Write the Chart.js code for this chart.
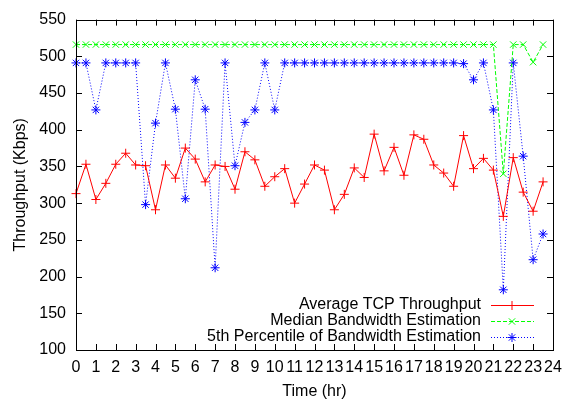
<!DOCTYPE html>
<html>
<head>
<meta charset="utf-8">
<script src="https://cdn.jsdelivr.net/npm/chart.js@4/dist/chart.umd.min.js"></script>
<style>
  html, body { margin: 0; padding: 0; background: #fff; }
  #wrap { width: 570px; height: 401px; }
</style>
</head>
<body>
<div id="wrap"><canvas id="bw"></canvas></div>
<script>
// time of day (hr), one sample every half hour
var hours = [0, 0.5, 1, 1.5, 2, 2.5, 3, 3.5, 4, 4.5, 5, 5.5, 6, 6.5, 7, 7.5,
  8, 8.5, 9, 9.5, 10, 10.5, 11, 11.5, 12, 12.5, 13, 13.5, 14, 14.5, 15, 15.5,
  16, 16.5, 17, 17.5, 18, 18.5, 19, 19.5, 20, 20.5, 21, 21.5, 22, 22.5, 23, 23.5];

// Average TCP Throughput
var tcpAvg = [313, 353, 305, 327, 353, 368, 352, 351, 291, 352, 334, 375, 360, 329, 352, 350,
  319, 370, 359, 323, 336, 347, 300, 326, 352, 345, 291, 312, 348, 335, 394, 344,
  376, 338, 393, 387, 352, 341, 323, 392, 347, 361, 345, 282, 362, 315, 289, 329];

// Median Bandwidth Estimation
var bwMedian = [516, 516, 516, 516, 516, 516, 516, 516, 516, 516, 516, 516, 516, 516, 516, 516,
  516, 516, 516, 516, 516, 516, 516, 516, 516, 516, 516, 516, 516, 516, 516, 516,
  516, 516, 516, 516, 516, 516, 516, 516, 516, 516, 516, 340, 516, 516, 492, 516];

// 5th Percentile of Bandwidth Estimation
var bw5th = [491, 491, 427, 491, 491, 491, 491, 298, 409, 491, 428, 306, 468, 428, 212, 491,
  351, 410, 427, 491, 427, 491, 491, 491, 491, 491, 491, 491, 491, 491, 491, 491,
  491, 491, 491, 491, 491, 491, 491, 490, 468, 491, 427, 182, 491, 364, 223, 258];

var xTicks = [0, 24];
var yTicks = [100, 550, 50];

function pts(vals) {
  return hours.map(function (h, i) { return {x: h, y: vals[i]}; });
}

var FONT = '"Liberation Sans", Arial, sans-serif';

// gnuplot style frame, inward ticks, legend in the lower right
var framePlugin = {
  id: 'frame',
  afterDraw: function (chart) {
    var ctx = chart.ctx, a = chart.chartArea;
    var xs = chart.scales.x, ys = chart.scales.y;
    ctx.save();
    ctx.strokeStyle = '#000';
    ctx.lineWidth = 1;
    ctx.beginPath();
    for (var h = xTicks[0]; h <= xTicks[1]; h++) {
      var px = Math.round(xs.getPixelForValue(h)) + 0.5;
      ctx.moveTo(px, a.bottom); ctx.lineTo(px, a.bottom - 6);
      ctx.moveTo(px, a.top); ctx.lineTo(px, a.top + 6);
    }
    for (var v = yTicks[0]; v <= yTicks[1]; v += yTicks[2]) {
      var py = Math.round(ys.getPixelForValue(v)) + 0.5;
      ctx.moveTo(a.left, py); ctx.lineTo(a.left + 6, py);
      ctx.moveTo(a.right, py); ctx.lineTo(a.right - 6, py);
    }
    ctx.stroke();
    ctx.strokeRect(Math.round(a.left) + 0.5, Math.round(a.top) + 0.5,
      Math.round(a.right - a.left), Math.round(a.bottom - a.top));

    // legend
    ctx.font = '16px ' + FONT;
    ctx.fillStyle = '#000';
    ctx.textAlign = 'right';
    ctx.textBaseline = 'middle';
    var rowY = a.bottom - 45;
    chart.data.datasets.forEach(function (ds, i) {
      var y = rowY + i * 16;
      ctx.fillText(ds.label, 481, y);
      ctx.save();
      ctx.strokeStyle = ds.borderColor;
      ctx.lineWidth = 1;
      ctx.setLineDash(ds.borderDash || []);
      ctx.beginPath();
      ctx.moveTo(491, y + 0.5); ctx.lineTo(534, y + 0.5);
      ctx.stroke();
      ctx.setLineDash([]);
      ctx.fillStyle = ds.borderColor;
      Chart.helpers.drawPoint(ctx, {pointStyle: ds.pointStyle, radius: ds.pointRadius, rotation: 0, borderWidth: 1}, 512, y + 0.5);
      ctx.restore();
    });
    ctx.restore();
  }
};

new Chart(document.getElementById('bw'), {
  type: 'line',
  data: {
    datasets: [
      {
        label: 'Average TCP Throughput',
        data: pts(tcpAvg),
        borderColor: '#ff0000',
        backgroundColor: '#ff0000',
        borderWidth: 1,
        pointStyle: 'cross',
        pointRadius: 4.5,
        pointBorderWidth: 1,
        tension: 0,
        clip: false
      },
      {
        label: 'Median Bandwidth Estimation',
        data: pts(bwMedian),
        borderColor: '#00ff00',
        backgroundColor: '#00ff00',
        borderWidth: 1,
        borderDash: [4, 2],
        pointStyle: 'crossRot',
        pointRadius: 4.5,
        pointBorderWidth: 1,
        tension: 0,
        clip: false
      },
      {
        label: '5th Percentile of Bandwidth Estimation',
        data: pts(bw5th),
        borderColor: '#0000ff',
        backgroundColor: '#0000ff',
        borderWidth: 1,
        borderDash: [1, 2],
        pointStyle: 'star',
        pointRadius: 4.5,
        pointBorderWidth: 1,
        tension: 0,
        clip: false
      }
    ]
  },
  options: {
    responsive: true,
    maintainAspectRatio: false,
    animation: false,
    layout: { padding: { top: 14, right: 17, left: 0, bottom: 0 } },
    plugins: {
      legend: { display: false },
      tooltip: { enabled: false }
    },
    scales: {
      x: {
        type: 'linear',
        min: xTicks[0],
        max: xTicks[1],
        grid: { display: false, drawTicks: false },
        border: { display: false },
        ticks: { stepSize: 1, padding: 8, color: '#000', font: { family: FONT, size: 16 }, maxRotation: 0, autoSkip: false },
        title: { display: true, text: 'Time (hr)', color: '#000', font: { family: FONT, size: 16 }, padding: { top: 0, bottom: 0 } },
        afterFit: function (s) { s.height = 51; }
      },
      y: {
        min: yTicks[0],
        max: yTicks[1],
        grid: { display: false, drawTicks: false },
        border: { display: false },
        ticks: { stepSize: yTicks[2], padding: 10, color: '#000', font: { family: FONT, size: 16 } },
        title: { display: true, text: 'Throughput (Kbps)', color: '#000', font: { family: FONT, size: 16 }, padding: { top: 11, bottom: 0 } },
        afterFit: function (s) { s.width = 76; }
      }
    }
  },
  plugins: [framePlugin]
});
</script>
</body>
</html>
